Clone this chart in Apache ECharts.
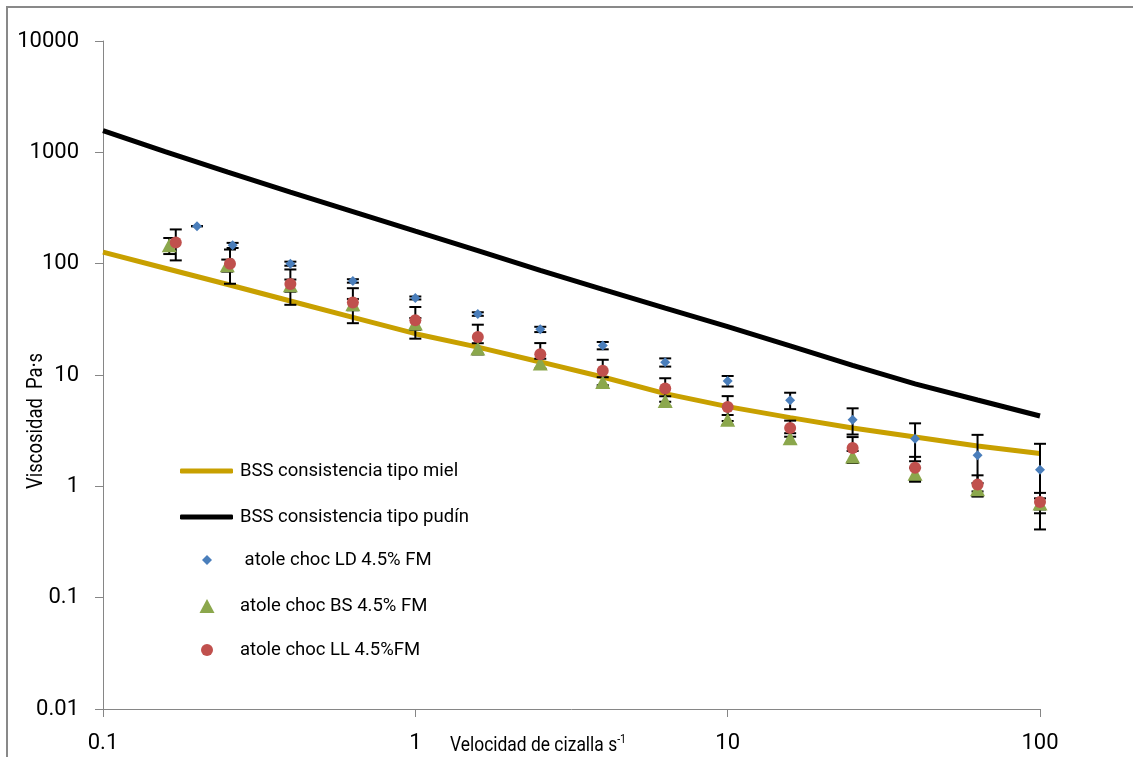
<!DOCTYPE html>
<html>
<head>
<meta charset="utf-8">
<script src="https://cdn.jsdelivr.net/npm/echarts@6/dist/echarts.min.js"></script>
<style>
  html, body { margin: 0; padding: 0; background: #fff; }
  #chart { width: 1133px; height: 757px; }
</style>
</head>
<body>
<div id="chart"></div>
<script>
// model curves (BSS reference consistencies)
const modelRate = [0.1, 0.158, 0.251, 0.398, 0.631, 1, 1.585, 2.512, 3.981, 6.31, 10, 15.85, 25.12, 39.81, 63.1, 100]
const mielVisc = [127, 91, 65, 46.2, 32.9, 23.5, 17.8, 13.1, 9.6, 6.8, 5.2, 4.14, 3.34, 2.77, 2.3, 1.97]
const pudinVisc = [1570, 1017, 664, 439, 294, 196, 131, 87.1, 58.7, 39.8, 27.2, 18.3, 12.2, 8.32, 5.96, 4.28]

// measured samples (mean and std dev)
const ldRate = [0.2, 0.26, 0.398, 0.631, 1, 1.585, 2.512, 3.981, 6.31, 10, 15.85, 25.12, 39.81, 63.1, 100]
const ldVisc = [217, 146, 100, 70, 49.2, 35.3, 25.7, 18.4, 13.0, 8.84, 5.93, 3.97, 2.68, 1.9, 1.41]
const ldErr = [0.5, 7.7, 4.2, 2.5, 1.5, 1.3, 1.4, 1.4, 1.1, 0.96, 1.0, 1.05, 1.0, 1.0, 1.0]

const bsRate = [0.163, 0.25, 0.398, 0.631, 1, 1.585, 2.512, 3.981, 6.31, 10, 15.85, 25.12, 39.81, 63.1, 100]
const bsVisc = [146, 96.8, 64, 43.2, 29, 17.3, 12.7, 8.65, 5.84, 3.97, 2.7, 1.85, 1.3, 0.94, 0.7]
const bsErr = [24, 12, 8, 5, 3.5, 2, 1.3, 0.9, 0.6, 0.4, 0.3, 0.23, 0.17, 0.13, 0.08]

const llRate = [0.171, 0.255, 0.398, 0.631, 1, 1.585, 2.512, 3.981, 6.31, 10, 15.85, 25.12, 39.81, 63.1, 100]
const llVisc = [155, 100, 65.7, 44.7, 31.0, 21.9, 15.35, 10.9, 7.55, 5.16, 3.34, 2.21, 1.47, 1.036, 0.723]
const llErr = [48, 34, 23, 15.5, 9.8, 6.4, 4.0, 2.8, 1.8, 1.3, 0.55, 0.56, 0.37, 0.22, 0.15]

const names = [
  'BSS consistencia tipo miel',
  'BSS consistencia tipo pudín',
  ' atole choc LD 4.5% FM',
  'atole choc BS 4.5% FM',
  'atole choc LL 4.5%FM',
]

const FONT = 'Roboto'
const chart = echarts.init(document.getElementById('chart'))

function pairs(xs, ys) {
  return xs.map((x, i) => [x, ys[i]])
}

function errorBars(xs, ys, errs) {
  return {
    type: 'custom',
    silent: true,
    z: 3,
    data: xs.map((x, i) => [x, ys[i] - errs[i], ys[i] + errs[i]]),
    encode: { x: 0, y: [1, 2] },
    renderItem: (params, api) => {
      const top = api.coord([api.value(0), api.value(2)])
      const bot = api.coord([api.value(0), api.value(1)])
      const w = 6
      const style = { stroke: '#000', lineWidth: 2 }
      return {
        type: 'group',
        children: [
          { type: 'line', shape: { x1: top[0], y1: top[1], x2: bot[0], y2: bot[1] }, style },
          { type: 'line', shape: { x1: top[0] - w, y1: top[1], x2: top[0] + w, y2: top[1] }, style },
          { type: 'line', shape: { x1: bot[0] - w, y1: bot[1], x2: bot[0] + w, y2: bot[1] }, style },
        ],
      }
    },
  }
}

// one legend per row so each icon keeps its own size;
// icons sit centred at x=207, text starts near x=240
const legendRows = [
  { icon: 'roundRect', w: 53, h: 5, center: 471 },
  { icon: 'roundRect', w: 53, h: 5, center: 517 },
  { icon: 'diamond', w: 10, h: 10, center: 560 },
  { icon: 'triangle', w: 15, h: 14, center: 606 },
  { icon: 'circle', w: 12, h: 12, center: 650 },
]

const option = {
  animation: false,
  backgroundColor: '#fff',
  grid: { left: 103, right: 93, top: 41, bottom: 48 },
  legend: legendRows.map((r, i) => {
    const left = r.w === 53 ? 180 : 207 - r.w / 2
    const pad = 240 - (left + r.w + 5)
    return {
      data: [{ name: names[i], icon: r.icon }],
      left: left,
      top: r.center - 12,
      padding: 0,
      itemWidth: r.w,
      itemHeight: r.h,
      selectedMode: false,
      textStyle: {
        fontFamily: FONT, fontSize: 18.5, color: '#000', lineHeight: 24,
        padding: [0, 0, 0, pad],
      },
    }
  }),
  xAxis: {
    type: 'log',
    logBase: 10,
    min: 0.1,
    max: 100,
    splitNumber: 3,
    axisLine: { lineStyle: { color: '#868686', width: 1 } },
    axisTick: { show: true, length: 8, lineStyle: { color: '#868686' } },
    minorTick: { show: false },
    splitLine: { show: false },
    axisLabel: {
      margin: 23,
      color: '#000',
      fontFamily: FONT,
      fontSize: 22,
      formatter: v => String(+(+v).toPrecision(2)),
    },
  },
  yAxis: {
    type: 'log',
    logBase: 10,
    min: 0.01,
    max: 10000,
    splitNumber: 6,
    axisLine: { show: true, lineStyle: { color: '#868686', width: 1 } },
    axisTick: { show: true, length: 8, lineStyle: { color: '#868686' } },
    splitLine: { show: false },
    axisLabel: {
      margin: 24,
      color: '#000',
      fontFamily: FONT,
      fontSize: 22,
      formatter: v => String(+(+v).toPrecision(2)),
    },
  },
  graphic: [
    {
      type: 'rect',
      z: -1,
      shape: { x: 7, y: 7, width: 1300, height: 900 },
      style: { fill: 'none', stroke: '#898989', lineWidth: 2 },
    },
    {
      type: 'text',
      x: 36,
      y: 421,
      rotation: Math.PI / 2,
      scaleX: 0.84,
      style: {
        text: 'Viscosidad  Pa·s',
        fontFamily: FONT,
        fontSize: 22,
        fill: '#000',
        align: 'center',
        verticalAlign: 'middle',
      },
    },
    {
      type: 'text',
      x: 450,
      y: 746,
      scaleX: 0.83,
      style: {
        text: 'Velocidad de cizalla s{sup|-1}',
        fontFamily: FONT,
        fontSize: 21,
        fill: '#000',
        align: 'left',
        verticalAlign: 'middle',
        rich: {
          sup: { fontFamily: FONT, fontSize: 13, verticalAlign: 'top', padding: [0, 0, 12, 0] },
        },
      },
    },
  ],
  series: [
    {
      name: names[0],
      type: 'line',
      z: 2,
      symbol: 'none',
      color: '#C8A000',
      lineStyle: { width: 5, color: '#C8A000' },
      data: pairs(modelRate, mielVisc),
    },
    {
      name: names[1],
      type: 'line',
      z: 2,
      symbol: 'none',
      color: '#000',
      lineStyle: { width: 5, color: '#000' },
      data: pairs(modelRate, pudinVisc),
    },
    errorBars(ldRate, ldVisc, ldErr),
    errorBars(bsRate, bsVisc, bsErr),
    errorBars(llRate, llVisc, llErr),
    {
      name: names[2],
      type: 'scatter',
      z: 4,
      symbol: 'diamond',
      symbolSize: 10,
      itemStyle: { color: '#4A7EBB', opacity: 1 },
      data: pairs(ldRate, ldVisc),
    },
    {
      name: names[3],
      type: 'scatter',
      z: 4,
      symbol: 'triangle',
      symbolSize: [15, 14],
      itemStyle: { color: '#8BA74C', opacity: 1 },
      data: pairs(bsRate, bsVisc),
    },
    {
      name: names[4],
      type: 'scatter',
      z: 4,
      symbol: 'circle',
      symbolSize: 12,
      itemStyle: { color: '#C0504D', opacity: 1 },
      data: pairs(llRate, llVisc),
    },
  ],
}

chart.setOption(option)
</script>
</body>
</html>
